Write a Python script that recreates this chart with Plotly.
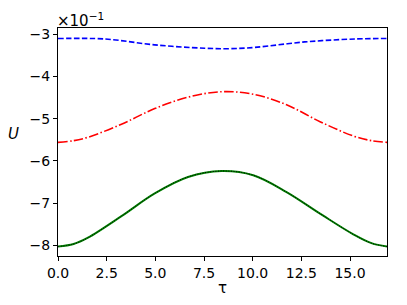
import plotly.graph_objects as go

tau_a = [0, 0.8, 1.54, 3.26, 4.97, 6.68, 8.4, 10.03, 11.74, 13.46, 15.17, 16.1, 16.9]
u_green = [-8.03, -7.97, -7.82, -7.31, -6.77, -6.38, -6.24, -6.34, -6.74, -7.25, -7.74, -7.95, -8.03]
u_red = [-5.56, -5.52, -5.44, -5.13, -4.76, -4.49, -4.36, -4.42, -4.67, -5.07, -5.41, -5.52, -5.56]

tau_b = [0, 2.4, 4.97, 7.54, 8.83, 10.11, 12.68, 15.25, 16.9]
u_blue = [-3.10, -3.11, -3.25, -3.33, -3.34, -3.31, -3.18, -3.11, -3.10]

x_ticks = [0, 2.5, 5, 7.5, 10, 12.5, 15]
x_ticktext = ["0.0", "2.5", "5.0", "7.5", "10.0", "12.5", "15.0"]
y_ticks = [-3, -4, -5, -6, -7, -8]

fig = go.Figure()
fig.add_trace(go.Scatter(x=tau_b, y=u_blue, mode="lines", line_shape="spline",
                         line=dict(color="blue", width=1.6, dash="5.5px,2.4px")))
fig.add_trace(go.Scatter(x=tau_a, y=u_red, mode="lines", line_shape="spline",
                         line=dict(color="red", width=1.6, dash="9.6px,2.4px,1.5px,2.4px")))
fig.add_trace(go.Scatter(x=tau_a, y=u_green, mode="lines", line_shape="spline",
                         line=dict(color="green", width=2)))
fig.add_trace(go.Scatter(x=tau_a, y=u_green, mode="lines", line_shape="spline",
                         line=dict(color="black", width=1, dash="1px,1.6px")))

axis_common = dict(showgrid=False, zeroline=False, showline=True, mirror=True,
                   linecolor="black", linewidth=1, ticks="outside", ticklen=4,
                   tickcolor="black", tickwidth=1, automargin=False,
                   tickfont=dict(family="DejaVu Sans", size=14, color="black"))

fig.update_layout(
    width=407, height=305,
    margin=dict(l=50, r=28, t=20, b=57),
    plot_bgcolor="white", paper_bgcolor="white",
    showlegend=False,
    font=dict(family="DejaVu Sans", size=14, color="black"),
    xaxis=dict(range=[0, 16.9], tickvals=x_ticks, ticktext=x_ticktext, **axis_common),
    yaxis=dict(range=[-8.254, -2.85], tickvals=y_ticks, **axis_common),
    annotations=[
        dict(text="×10<sup>−1</sup>", xref="paper", yref="paper",
             x=0, y=1, xanchor="left", yanchor="bottom", showarrow=False,
             font=dict(family="DejaVu Sans", size=15, color="black"),
             xshift=-3, yshift=-4),
        dict(text="τ", xref="paper", yref="paper", x=0.5, y=0,
             xanchor="center", yanchor="middle", showarrow=False,
             font=dict(family="DejaVu Sans", size=15, color="black"), yshift=-32),
        dict(text="<i>U</i>", xref="paper", yref="paper", x=0, y=0.534,
             xanchor="center", yanchor="middle", showarrow=False,
             font=dict(family="DejaVu Sans", size=15, color="black"), xshift=-45),
    ],
)

fig.write_html("out.html")
